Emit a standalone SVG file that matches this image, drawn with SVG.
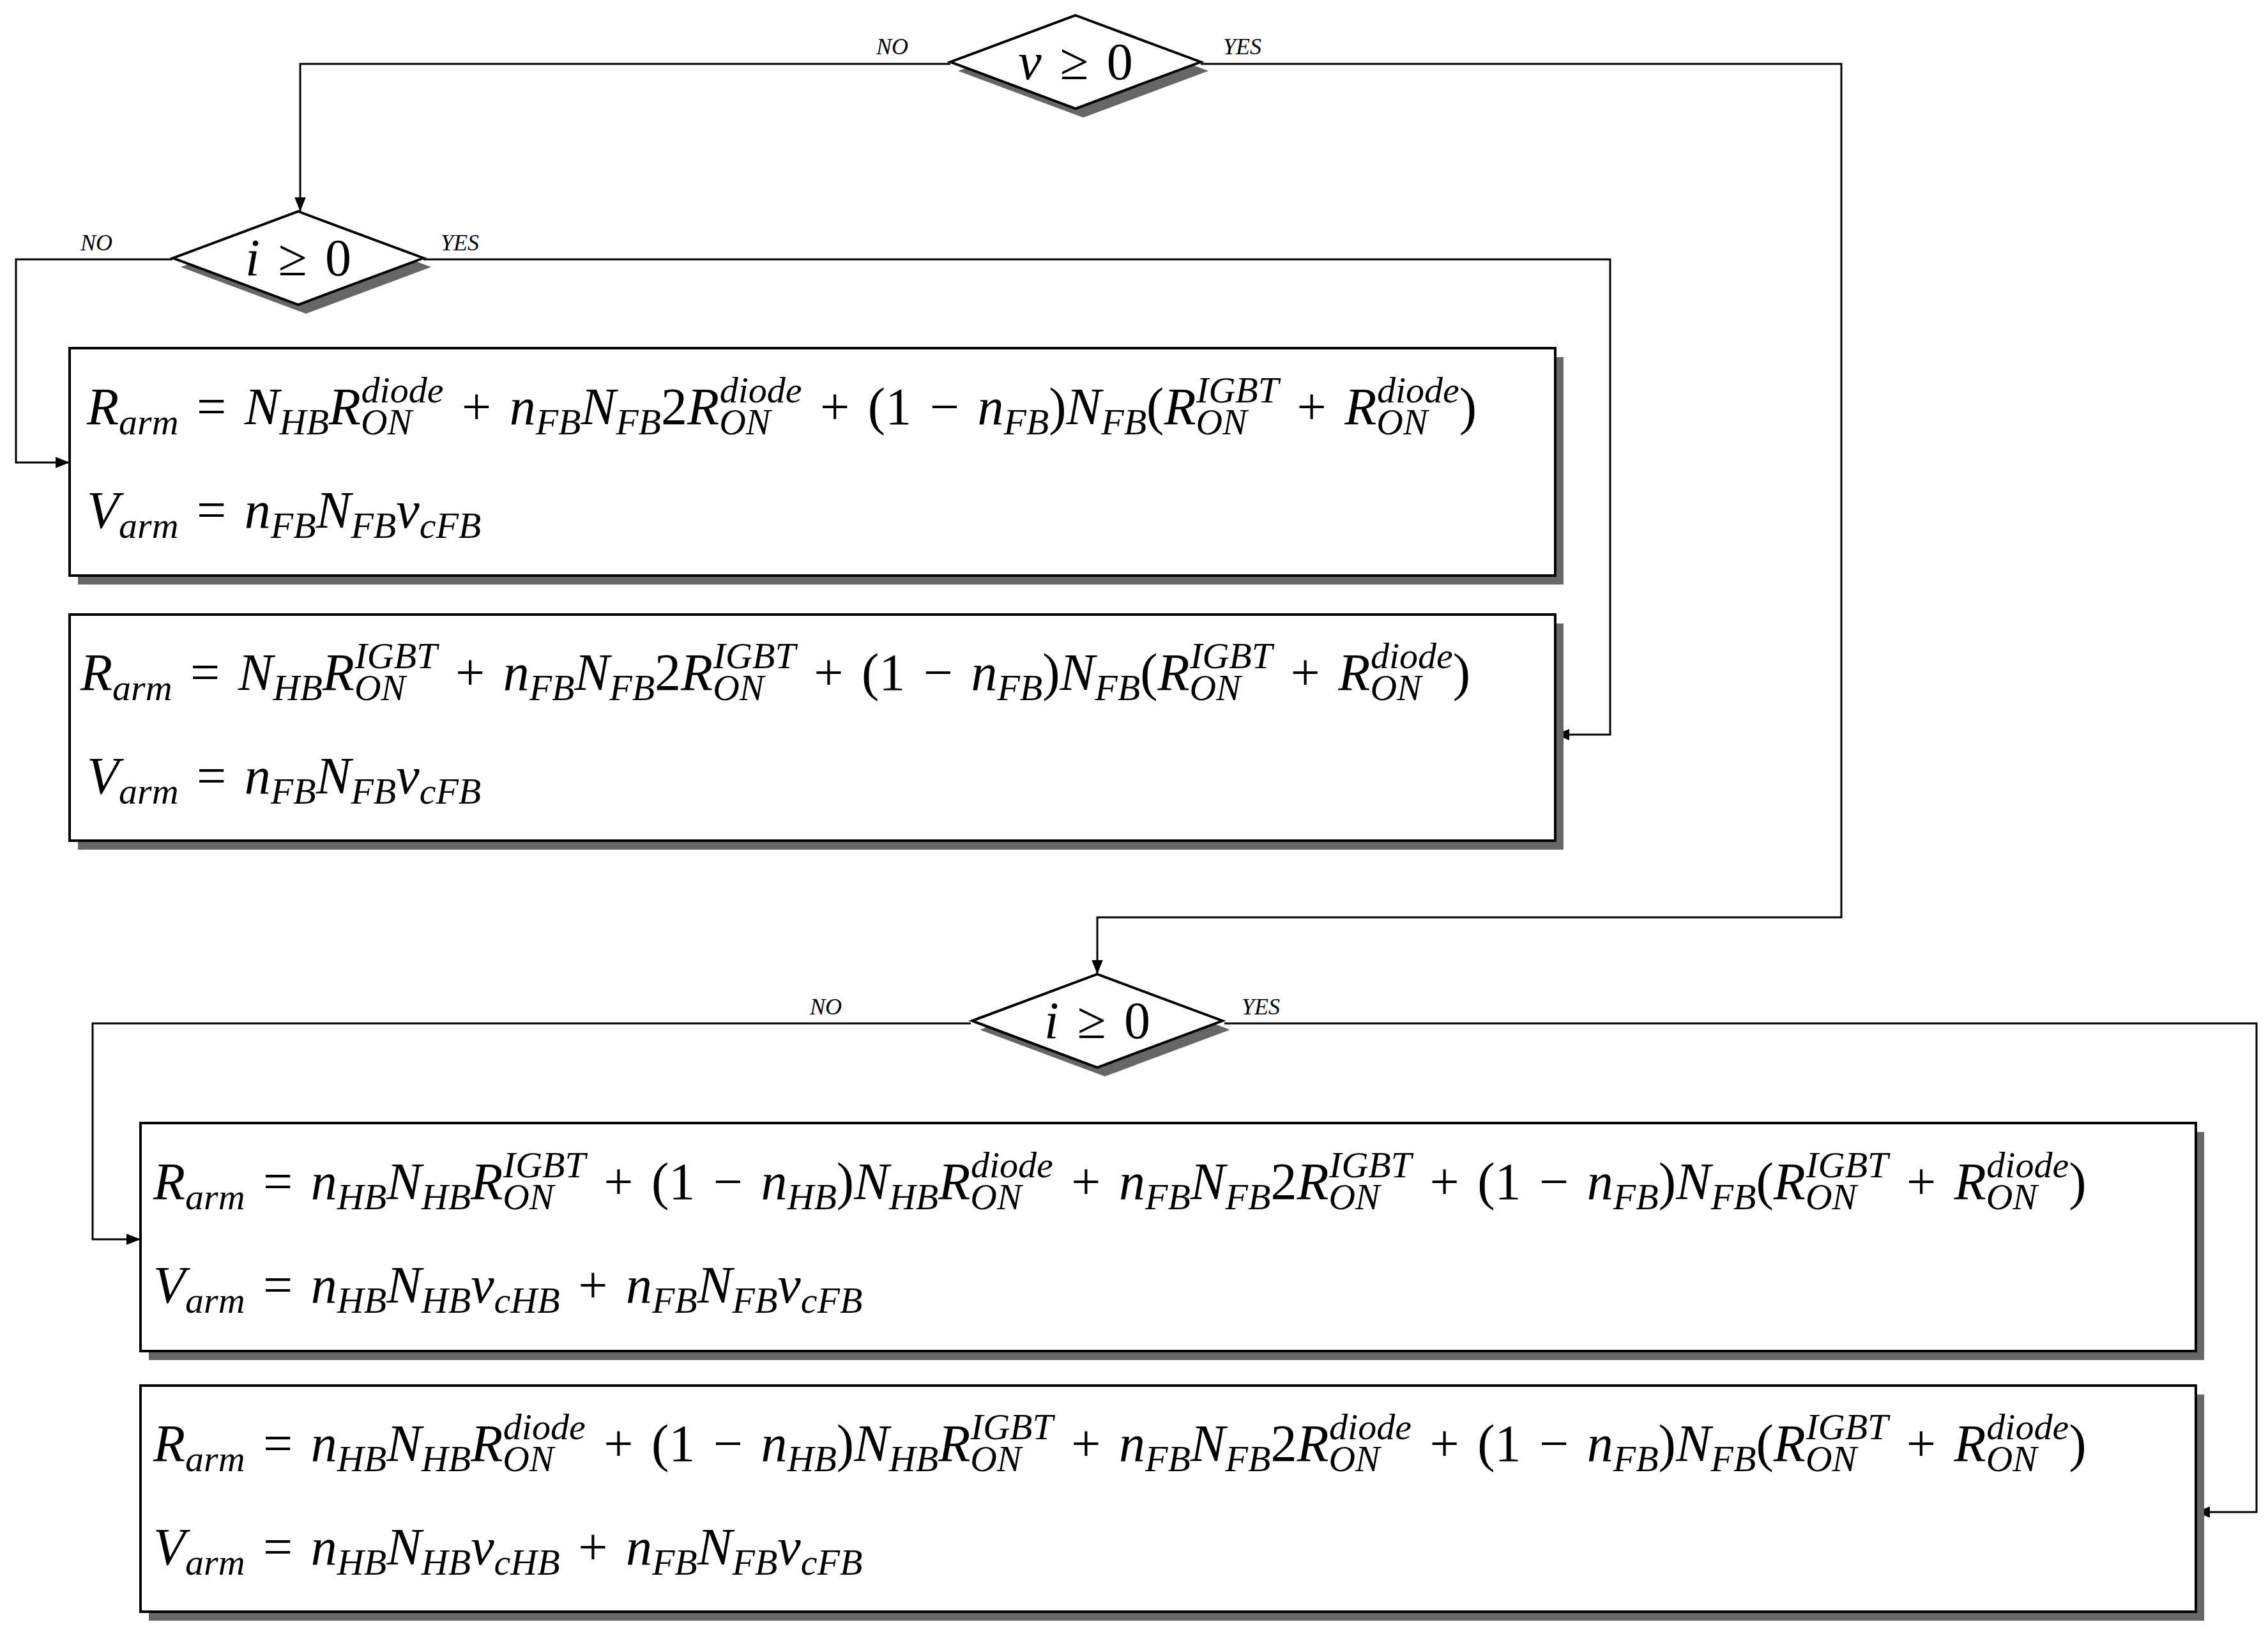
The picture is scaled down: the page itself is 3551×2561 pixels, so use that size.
<svg xmlns="http://www.w3.org/2000/svg" width="3551" height="2561" viewBox="0 0 3551 2561">
<style>
text{font-family:"Liberation Serif","DejaVu Serif",serif;fill:#000}
.m{font-size:82px;font-style:italic;word-spacing:8px}
.r{font-style:normal}
.s{font-size:58px;font-style:italic}
.lbl{font-size:36px;font-style:italic}
.box{fill:#fff;stroke:#000;stroke-width:4}
.sh{fill:#666}
.ln{fill:none;stroke:#000;stroke-width:3}
</style>
<defs>
<marker id="a" viewBox="0 0 10 10" refX="10" refY="5" markerWidth="26" markerHeight="22" markerUnits="userSpaceOnUse" orient="auto"><path d="M0,1 L10,5 L0,9 z" fill="#000"/></marker>
</defs>
<rect width="3551" height="2561" fill="#fff"/>
<g id="connectors">
<polyline class="ln" points="1488,100 470,100 470,331" marker-end="url(#a)"/>
<polyline class="ln" points="1880,100 2883,100 2883,1436 1718,1436 1718,1525" marker-end="url(#a)"/>
<polyline class="ln" points="270,406 25,406 25,724 109,724" marker-end="url(#a)"/>
<polyline class="ln" points="663,406 2521,406 2521,1150 2435,1150" marker-end="url(#a)"/>
<polyline class="ln" points="1520,1602 145,1602 145,1940 220,1940" marker-end="url(#a)"/>
<polyline class="ln" points="1917,1602 3533,1602 3533,2367 3438,2367" marker-end="url(#a)"/>
</g>
<g id="d1">
<polygon class="sh" points="1696,38 1892,111 1696,184 1500,111"/>
<polygon class="box" points="1684,24 1880,97 1684,170 1488,97"/>
<text class="m" x="1684" y="124" text-anchor="middle" xml:space="preserve">v <tspan class="r">≥ 0</tspan></text>
<text class="lbl" x="1372" y="85">NO</text><text class="lbl" x="1915" y="85">YES</text>
</g>
<g id="d2">
<polygon class="sh" points="479,345 675,418 479,491 283,418"/>
<polygon class="box" points="467,331 663,404 467,477 271,404"/>
<text class="m" x="467" y="431" text-anchor="middle" xml:space="preserve">i <tspan class="r">≥ 0</tspan></text>
<text class="lbl" x="126" y="392">NO</text><text class="lbl" x="690" y="392">YES</text>
</g>
<g id="d3">
<polygon class="sh" points="1730,1539 1926,1612 1730,1685 1534,1612"/>
<polygon class="box" points="1718,1525 1914,1598 1718,1671 1522,1598"/>
<text class="m" x="1718" y="1625" text-anchor="middle" xml:space="preserve">i <tspan class="r">≥ 0</tspan></text>
<text class="lbl" x="1268" y="1588">NO</text><text class="lbl" x="1944" y="1588">YES</text>
</g>
<g id="b1">
<rect class="sh" x="122" y="559" width="2326" height="356"/>
<rect class="box" x="109" y="545" width="2326" height="356"/>
<text class="m" transform="translate(136,664)" xml:space="preserve">R<tspan class="s" y="16">arm</tspan><tspan class="r" y="0"> = </tspan><tspan y="0">N</tspan><tspan class="s" y="16">HB</tspan><tspan y="0">R</tspan><tspan class="s" y="16" textLength="80" lengthAdjust="spacingAndGlyphs">ON</tspan><tspan class="s" y="-34" dx="-80">diode</tspan><tspan class="r" y="0"> + </tspan><tspan y="0">n</tspan><tspan class="s" y="16">FB</tspan><tspan y="0">N</tspan><tspan class="s" y="16">FB</tspan><tspan class="r" y="0">2</tspan><tspan y="0">R</tspan><tspan class="s" y="16" textLength="80" lengthAdjust="spacingAndGlyphs">ON</tspan><tspan class="s" y="-34" dx="-80">diode</tspan><tspan class="r" y="0"> + (1 − </tspan><tspan y="0">n</tspan><tspan class="s" y="16">FB</tspan><tspan class="r" y="0">)</tspan><tspan y="0">N</tspan><tspan class="s" y="16">FB</tspan><tspan class="r" y="0">(</tspan><tspan y="0">R</tspan><tspan class="s" y="16" textLength="80" lengthAdjust="spacingAndGlyphs">ON</tspan><tspan class="s" y="-34" dx="-80">IGBT</tspan><tspan class="r" y="0"> + </tspan><tspan y="0">R</tspan><tspan class="s" y="16" textLength="80" lengthAdjust="spacingAndGlyphs">ON</tspan><tspan class="s" y="-34" dx="-80">diode</tspan><tspan class="r" y="0">)</tspan></text>
<text class="m" transform="translate(136,826)" xml:space="preserve">V<tspan class="s" y="16">arm</tspan><tspan class="r" y="0"> = </tspan><tspan y="0">n</tspan><tspan class="s" y="16">FB</tspan><tspan y="0">N</tspan><tspan class="s" y="16">FB</tspan><tspan y="0">v</tspan><tspan class="s" y="16">cFB</tspan></text>
</g>
<g id="b2">
<rect class="sh" x="122" y="976" width="2326" height="354"/>
<rect class="box" x="109" y="962" width="2326" height="354"/>
<text class="m" transform="translate(126,1080)" xml:space="preserve">R<tspan class="s" y="16">arm</tspan><tspan class="r" y="0"> = </tspan><tspan y="0">N</tspan><tspan class="s" y="16">HB</tspan><tspan y="0">R</tspan><tspan class="s" y="16" textLength="80" lengthAdjust="spacingAndGlyphs">ON</tspan><tspan class="s" y="-34" dx="-80">IGBT</tspan><tspan class="r" y="0"> + </tspan><tspan y="0">n</tspan><tspan class="s" y="16">FB</tspan><tspan y="0">N</tspan><tspan class="s" y="16">FB</tspan><tspan class="r" y="0">2</tspan><tspan y="0">R</tspan><tspan class="s" y="16" textLength="80" lengthAdjust="spacingAndGlyphs">ON</tspan><tspan class="s" y="-34" dx="-80">IGBT</tspan><tspan class="r" y="0"> + (1 − </tspan><tspan y="0">n</tspan><tspan class="s" y="16">FB</tspan><tspan class="r" y="0">)</tspan><tspan y="0">N</tspan><tspan class="s" y="16">FB</tspan><tspan class="r" y="0">(</tspan><tspan y="0">R</tspan><tspan class="s" y="16" textLength="80" lengthAdjust="spacingAndGlyphs">ON</tspan><tspan class="s" y="-34" dx="-80">IGBT</tspan><tspan class="r" y="0"> + </tspan><tspan y="0">R</tspan><tspan class="s" y="16" textLength="80" lengthAdjust="spacingAndGlyphs">ON</tspan><tspan class="s" y="-34" dx="-80">diode</tspan><tspan class="r" y="0">)</tspan></text>
<text class="m" transform="translate(136,1242)" xml:space="preserve">V<tspan class="s" y="16">arm</tspan><tspan class="r" y="0"> = </tspan><tspan y="0">n</tspan><tspan class="s" y="16">FB</tspan><tspan y="0">N</tspan><tspan class="s" y="16">FB</tspan><tspan y="0">v</tspan><tspan class="s" y="16">cFB</tspan></text>
</g>
<g id="b3">
<rect class="sh" x="233" y="1772" width="3218" height="357"/>
<rect class="box" x="220" y="1758" width="3218" height="357"/>
<text class="m" transform="translate(240,1877)" xml:space="preserve">R<tspan class="s" y="16">arm</tspan><tspan class="r" y="0"> = </tspan><tspan y="0">n</tspan><tspan class="s" y="16">HB</tspan><tspan y="0">N</tspan><tspan class="s" y="16">HB</tspan><tspan y="0">R</tspan><tspan class="s" y="16" textLength="80" lengthAdjust="spacingAndGlyphs">ON</tspan><tspan class="s" y="-34" dx="-80">IGBT</tspan><tspan class="r" y="0"> + (1 − </tspan><tspan y="0">n</tspan><tspan class="s" y="16">HB</tspan><tspan class="r" y="0">)</tspan><tspan y="0">N</tspan><tspan class="s" y="16">HB</tspan><tspan y="0">R</tspan><tspan class="s" y="16" textLength="80" lengthAdjust="spacingAndGlyphs">ON</tspan><tspan class="s" y="-34" dx="-80">diode</tspan><tspan class="r" y="0"> + </tspan><tspan y="0">n</tspan><tspan class="s" y="16">FB</tspan><tspan y="0">N</tspan><tspan class="s" y="16">FB</tspan><tspan class="r" y="0">2</tspan><tspan y="0">R</tspan><tspan class="s" y="16" textLength="80" lengthAdjust="spacingAndGlyphs">ON</tspan><tspan class="s" y="-34" dx="-80">IGBT</tspan><tspan class="r" y="0"> + (1 − </tspan><tspan y="0">n</tspan><tspan class="s" y="16">FB</tspan><tspan class="r" y="0">)</tspan><tspan y="0">N</tspan><tspan class="s" y="16">FB</tspan><tspan class="r" y="0">(</tspan><tspan y="0">R</tspan><tspan class="s" y="16" textLength="80" lengthAdjust="spacingAndGlyphs">ON</tspan><tspan class="s" y="-34" dx="-80">IGBT</tspan><tspan class="r" y="0"> + </tspan><tspan y="0">R</tspan><tspan class="s" y="16" textLength="80" lengthAdjust="spacingAndGlyphs">ON</tspan><tspan class="s" y="-34" dx="-80">diode</tspan><tspan class="r" y="0">)</tspan></text>
<text class="m" transform="translate(240,2039)" xml:space="preserve">V<tspan class="s" y="16">arm</tspan><tspan class="r" y="0"> = </tspan><tspan y="0">n</tspan><tspan class="s" y="16">HB</tspan><tspan y="0">N</tspan><tspan class="s" y="16">HB</tspan><tspan y="0">v</tspan><tspan class="s" y="16">cHB</tspan><tspan class="r" y="0"> + </tspan><tspan y="0">n</tspan><tspan class="s" y="16">FB</tspan><tspan y="0">N</tspan><tspan class="s" y="16">FB</tspan><tspan y="0">v</tspan><tspan class="s" y="16">cFB</tspan></text>
</g>
<g id="b4">
<rect class="sh" x="233" y="2183" width="3218" height="354"/>
<rect class="box" x="220" y="2169" width="3218" height="354"/>
<text class="m" transform="translate(240,2287)" xml:space="preserve">R<tspan class="s" y="16">arm</tspan><tspan class="r" y="0"> = </tspan><tspan y="0">n</tspan><tspan class="s" y="16">HB</tspan><tspan y="0">N</tspan><tspan class="s" y="16">HB</tspan><tspan y="0">R</tspan><tspan class="s" y="16" textLength="80" lengthAdjust="spacingAndGlyphs">ON</tspan><tspan class="s" y="-34" dx="-80">diode</tspan><tspan class="r" y="0"> + (1 − </tspan><tspan y="0">n</tspan><tspan class="s" y="16">HB</tspan><tspan class="r" y="0">)</tspan><tspan y="0">N</tspan><tspan class="s" y="16">HB</tspan><tspan y="0">R</tspan><tspan class="s" y="16" textLength="80" lengthAdjust="spacingAndGlyphs">ON</tspan><tspan class="s" y="-34" dx="-80">IGBT</tspan><tspan class="r" y="0"> + </tspan><tspan y="0">n</tspan><tspan class="s" y="16">FB</tspan><tspan y="0">N</tspan><tspan class="s" y="16">FB</tspan><tspan class="r" y="0">2</tspan><tspan y="0">R</tspan><tspan class="s" y="16" textLength="80" lengthAdjust="spacingAndGlyphs">ON</tspan><tspan class="s" y="-34" dx="-80">diode</tspan><tspan class="r" y="0"> + (1 − </tspan><tspan y="0">n</tspan><tspan class="s" y="16">FB</tspan><tspan class="r" y="0">)</tspan><tspan y="0">N</tspan><tspan class="s" y="16">FB</tspan><tspan class="r" y="0">(</tspan><tspan y="0">R</tspan><tspan class="s" y="16" textLength="80" lengthAdjust="spacingAndGlyphs">ON</tspan><tspan class="s" y="-34" dx="-80">IGBT</tspan><tspan class="r" y="0"> + </tspan><tspan y="0">R</tspan><tspan class="s" y="16" textLength="80" lengthAdjust="spacingAndGlyphs">ON</tspan><tspan class="s" y="-34" dx="-80">diode</tspan><tspan class="r" y="0">)</tspan></text>
<text class="m" transform="translate(240,2449)" xml:space="preserve">V<tspan class="s" y="16">arm</tspan><tspan class="r" y="0"> = </tspan><tspan y="0">n</tspan><tspan class="s" y="16">HB</tspan><tspan y="0">N</tspan><tspan class="s" y="16">HB</tspan><tspan y="0">v</tspan><tspan class="s" y="16">cHB</tspan><tspan class="r" y="0"> + </tspan><tspan y="0">n</tspan><tspan class="s" y="16">FB</tspan><tspan y="0">N</tspan><tspan class="s" y="16">FB</tspan><tspan y="0">v</tspan><tspan class="s" y="16">cFB</tspan></text>
</g>
</svg>
